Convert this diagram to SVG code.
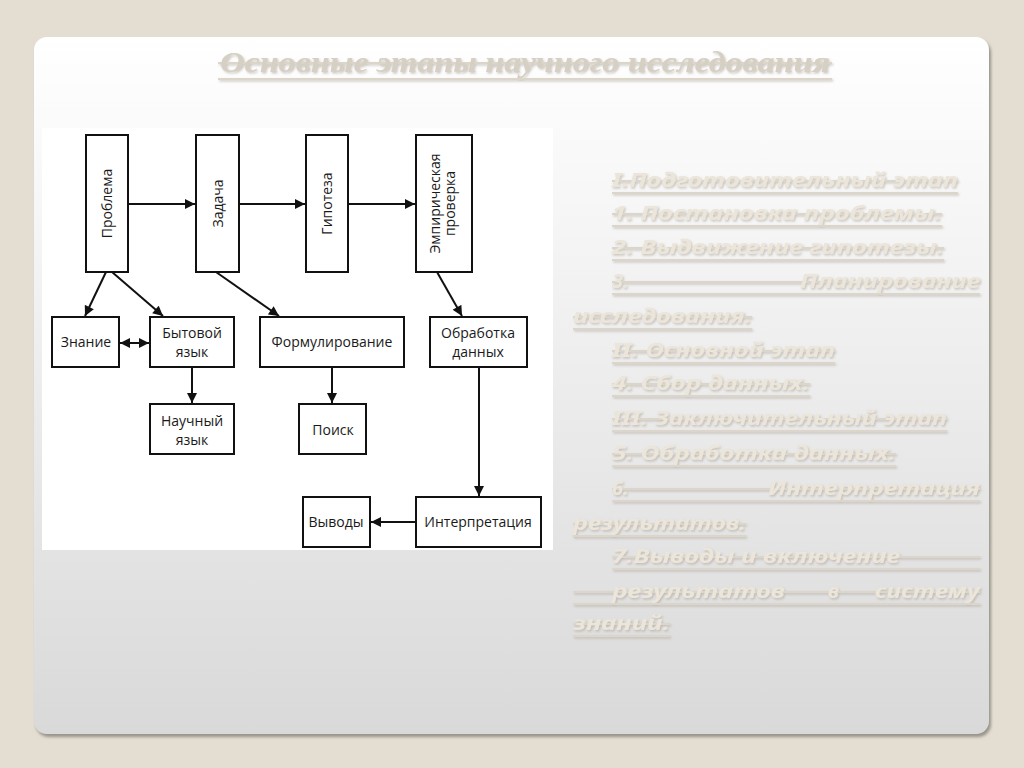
<svg xmlns="http://www.w3.org/2000/svg" width="1024" height="768" viewBox="0 0 1024 768">
<defs>
<linearGradient id="pg" x1="0" y1="0" x2="0" y2="1">
<stop offset="0" stop-color="#ffffff"/>
<stop offset="0.25" stop-color="#f6f6f6"/>
<stop offset="1" stop-color="#d9d9d9"/>
</linearGradient>
<filter id="psh" x="-5%" y="-5%" width="110%" height="110%">
<feDropShadow dx="2" dy="3" stdDeviation="1.5" flood-color="#8f8c84" flood-opacity="0.9"/>
</filter>
<filter id="emb" x="-5%" y="-20%" width="110%" height="150%">
<feDropShadow dx="1.2" dy="1.5" stdDeviation="0.8" flood-color="#a9a296" flood-opacity="0.6"/>
</filter>
<marker id="ah" viewBox="0 0 10 10" refX="10" refY="5" markerWidth="11" markerHeight="10" markerUnits="userSpaceOnUse" orient="auto-start-reverse">
<path d="M0,0 L10,5 L0,10 Z" fill="#111"/>
</marker>
<style>
.box{fill:#fff;stroke:#111;stroke-width:2}
.lbl{font-family:"Open Sans","Noto Sans",sans-serif;font-size:14px;fill:#1a1a1a;text-anchor:middle}
.con{stroke:#111;stroke-width:2;fill:none}
.rt{font-family:"Noto Sans","Open Sans",sans-serif;font-size:20px;font-weight:bold;font-style:italic;fill:#ebe5da}
.ul{stroke:#dcd5c9;stroke-width:2}
.ttl{font-family:"Liberation Serif",serif;font-size:30px;font-style:italic;font-weight:bold;fill:#d6d0c4}
</style>
</defs>
<rect x="0" y="0" width="1024" height="768" fill="#e4ddd1"/>
<rect x="34" y="37" width="955" height="697" rx="13" fill="url(#pg)" filter="url(#psh)"/>

<g id="title" filter="url(#emb)">
<line class="ul" x1="218" y1="79" x2="832" y2="79" stroke-width="2.5"/>
<line class="ul" x1="218" y1="63" x2="832" y2="63"/>
<text class="ttl" x="220" y="72" textLength="610" lengthAdjust="spacingAndGlyphs">Основные этапы научного исследования</text>
</g>

<rect x="42" y="128" width="511" height="422" fill="#ffffff"/>

<g id="connectors">
<line class="con" x1="128" y1="204" x2="195" y2="204" marker-end="url(#ah)"/>
<line class="con" x1="239" y1="204" x2="305" y2="204" marker-end="url(#ah)"/>
<line class="con" x1="348" y1="204" x2="415" y2="204" marker-end="url(#ah)"/>
<line class="con" x1="106" y1="272" x2="85" y2="316" marker-end="url(#ah)"/>
<line class="con" x1="112" y1="272" x2="163" y2="316" marker-end="url(#ah)"/>
<line class="con" x1="216" y1="272" x2="279" y2="316" marker-end="url(#ah)"/>
<line class="con" x1="437" y1="272" x2="462" y2="316" marker-end="url(#ah)"/>
<line class="con" x1="120" y1="343" x2="149" y2="343" marker-start="url(#ah)" marker-end="url(#ah)"/>
<line class="con" x1="192" y1="367" x2="192" y2="403" marker-end="url(#ah)"/>
<line class="con" x1="332" y1="367" x2="332" y2="403" marker-end="url(#ah)"/>
<line class="con" x1="479" y1="367" x2="479" y2="496" marker-end="url(#ah)"/>
<line class="con" x1="416" y1="522" x2="371" y2="522" marker-end="url(#ah)"/>
</g>

<g id="problema"><rect class="box" x="86" y="135" width="42" height="137"/><text class="lbl" transform="translate(112,203.5) rotate(-90)">Проблема</text></g>
<g id="zadacha"><rect class="box" x="196" y="135" width="43" height="137"/><text class="lbl" transform="translate(222.5,203.5) rotate(-90)">Задача</text></g>
<g id="gipoteza"><rect class="box" x="306" y="135" width="42" height="137"/><text class="lbl" transform="translate(332,203.5) rotate(-90)">Гипотеза</text></g>
<g id="empir"><rect class="box" x="416" y="135" width="56" height="137"/><text class="lbl" transform="translate(440,203.5) rotate(-90)">Эмпирическая</text><text class="lbl" transform="translate(455,203.5) rotate(-90)">проверка</text></g>
<g id="znanie"><rect class="box" x="52" y="317" width="67" height="50"/><text class="lbl" x="86" y="347">Знание</text></g>
<g id="bytovoy"><rect class="box" x="150" y="317" width="84" height="50"/><text class="lbl" x="192" y="338">Бытовой</text><text class="lbl" x="192" y="357">язык</text></g>
<g id="formul"><rect class="box" x="260" y="317" width="144" height="50"/><text class="lbl" x="332" y="347">Формулирование</text></g>
<g id="obrabotka"><rect class="box" x="430" y="317" width="97" height="50"/><text class="lbl" x="478" y="338">Обработка</text><text class="lbl" x="478" y="357">данных</text></g>
<g id="nauchny"><rect class="box" x="150" y="404" width="84" height="50"/><text class="lbl" x="192" y="426">Научный</text><text class="lbl" x="192" y="445">язык</text></g>
<g id="poisk"><rect class="box" x="299" y="404" width="67" height="50"/><text class="lbl" x="333" y="435">Поиск</text></g>
<g id="vyvody"><rect class="box" x="303" y="497" width="67" height="50"/><text class="lbl" x="336" y="527">Выводы</text></g>
<g id="interp"><rect class="box" x="416" y="497" width="125" height="50"/><text class="lbl" x="478" y="527">Интерпретация</text></g>

<g id="stages" filter="url(#emb)">
<g class="ul">
<line x1="612" y1="193" x2="958" y2="193"/><line x1="612" y1="181" x2="958" y2="181"/>
<line x1="612" y1="226" x2="942" y2="226"/><line x1="612" y1="214" x2="942" y2="214"/>
<line x1="612" y1="260" x2="944" y2="260"/><line x1="612" y1="248" x2="944" y2="248"/>
<line x1="612" y1="294" x2="980" y2="294"/><line x1="612" y1="282" x2="980" y2="282"/>
<line x1="573" y1="329" x2="752" y2="329"/><line x1="573" y1="317" x2="752" y2="317"/>
<line x1="612" y1="363" x2="835" y2="363"/><line x1="612" y1="351" x2="835" y2="351"/>
<line x1="612" y1="396" x2="810" y2="396"/><line x1="612" y1="384" x2="810" y2="384"/>
<line x1="612" y1="431" x2="947" y2="431"/><line x1="612" y1="419" x2="947" y2="419"/>
<line x1="612" y1="466" x2="896" y2="466"/><line x1="612" y1="454" x2="896" y2="454"/>
<line x1="612" y1="501" x2="980" y2="501"/><line x1="612" y1="489" x2="980" y2="489"/>
<line x1="573" y1="536" x2="746" y2="536"/><line x1="573" y1="524" x2="746" y2="524"/>
<line x1="612" y1="569" x2="980" y2="569"/><line x1="612" y1="557" x2="980" y2="557"/>
<line x1="573" y1="604" x2="980" y2="604"/><line x1="573" y1="592" x2="980" y2="592"/>
<line x1="573" y1="636" x2="670" y2="636"/><line x1="573" y1="624" x2="670" y2="624"/>
</g>
<text class="rt" x="612" y="187" textLength="346" lengthAdjust="spacingAndGlyphs">I.Подготовительный этап</text>
<text class="rt" x="612" y="220" textLength="330" lengthAdjust="spacingAndGlyphs">1. Постановка проблемы.</text>
<text class="rt" x="612" y="254" textLength="332" lengthAdjust="spacingAndGlyphs">2. Выдвижение гипотезы.</text>
<text class="rt" x="612" y="288">3.</text>
<text class="rt" x="800" y="288" textLength="180" lengthAdjust="spacingAndGlyphs">Планирование</text>
<text class="rt" x="573" y="323" textLength="179" lengthAdjust="spacingAndGlyphs">исследования.</text>
<text class="rt" x="612" y="357" textLength="223" lengthAdjust="spacingAndGlyphs">II. Основной этап</text>
<text class="rt" x="612" y="390" textLength="198" lengthAdjust="spacingAndGlyphs">4. Сбор данных.</text>
<text class="rt" x="612" y="425" textLength="335" lengthAdjust="spacingAndGlyphs">III. Заключительный этап</text>
<text class="rt" x="612" y="460" textLength="284" lengthAdjust="spacingAndGlyphs">5. Обработка данных.</text>
<text class="rt" x="612" y="495">6.</text>
<text class="rt" x="768" y="495" textLength="212" lengthAdjust="spacingAndGlyphs">Интерпретация</text>
<text class="rt" x="573" y="530" textLength="173" lengthAdjust="spacingAndGlyphs">результатов.</text>
<text class="rt" x="612" y="563" textLength="288" lengthAdjust="spacingAndGlyphs">7.Выводы и включение</text>
<text class="rt" x="612" y="598" textLength="173" lengthAdjust="spacingAndGlyphs">результатов</text>
<text class="rt" x="828" y="598">в</text>
<text class="rt" x="875" y="598" textLength="105" lengthAdjust="spacingAndGlyphs">систему</text>
<text class="rt" x="573" y="630" textLength="97" lengthAdjust="spacingAndGlyphs">знаний.</text>
</g>
</svg>
